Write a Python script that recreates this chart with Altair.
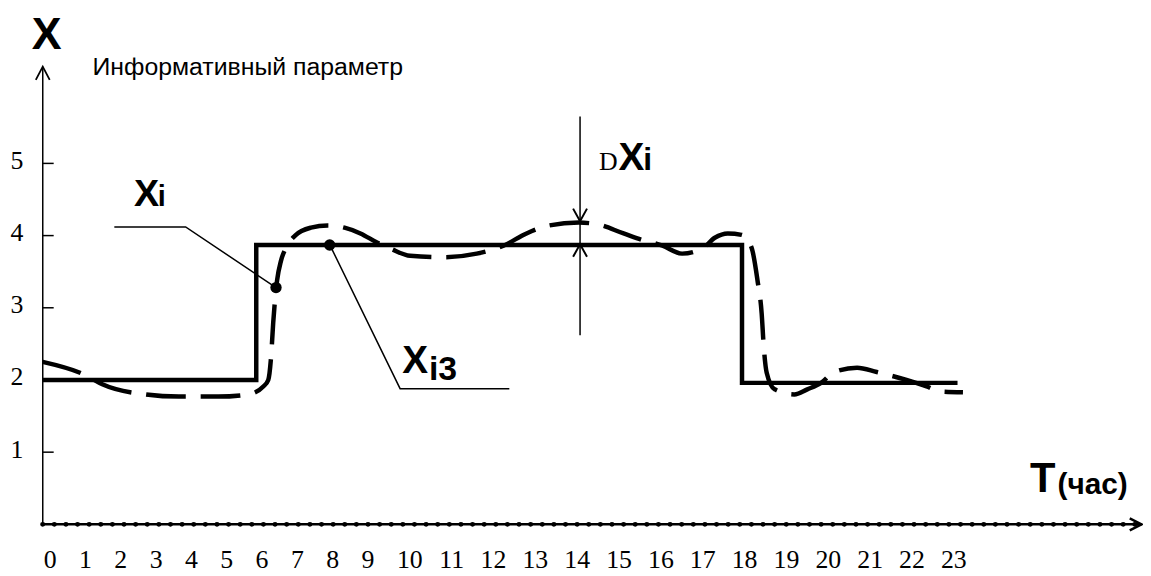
import altair as alt
import pandas as pd

# ---------------- data ----------------
HOURS = list(range(24))
Y_TICKS = [1, 2, 3, 4, 5]

# solid step line  Xi
STEP_T = [-0.2, 5.85, 5.85, 17.95, 17.95, 23.1]
STEP_X = [2.0, 2.0, 3.87, 3.87, 1.96, 1.96]

# dashed curve  Xi3
CURVE_T = [-0.2, 1.04, 1.49, 2.73, 3.66, 4.78, 5.62, 6.05, 6.19, 6.27, 6.33, 6.38,
           6.44, 6.55, 6.69, 6.95, 7.40, 7.87, 8.35, 8.80, 9.24, 9.55, 10.02, 10.83,
           11.61, 12.25, 12.80, 13.34, 14.05, 14.46, 15.12, 15.57, 16.05, 16.52, 17.00,
           17.30, 17.61, 17.94, 18.18, 18.32, 18.42, 18.47, 18.54, 18.73, 19.20, 19.51,
           19.84, 20.15, 20.70, 21.17, 21.88, 22.36, 22.69, 23.23]
CURVE_X = [2.25, 2.06, 1.94, 1.80, 1.77, 1.77, 1.80, 1.91, 2.00, 2.32, 2.79, 3.10,
           3.38, 3.65, 3.83, 4.00, 4.11, 4.14, 4.11, 4.03, 3.90, 3.82, 3.72, 3.70,
           3.75, 3.86, 4.03, 4.14, 4.18, 4.16, 4.03, 3.94, 3.86, 3.75, 3.82,
           3.97, 4.03, 4.01, 3.83, 3.38, 2.92, 2.46, 2.10, 1.87, 1.80, 1.87,
           1.96, 2.11, 2.17, 2.11, 2.00, 1.91, 1.84, 1.83]

# leader lines of the labels
PTR_XI_T = [1.83, 3.85, 6.41]
PTR_XI_X = [4.12, 4.12, 3.28]
PTR_XI3_T = [7.93, 9.78, 12.39]
PTR_XI3_X = [3.875, 1.88, 1.88]
DOT_T = [6.41, 7.93]
DOT_X = [3.28, 3.87]

# delta arrow
DELTA_T = 14.08
DELTA_TOP = 5.65
DELTA_BOTTOM = 2.62
DELTA_DOWN_TIP = 4.20
DELTA_UP_TIP = 3.88

# axes extent
AXIS_T_START = -0.2
AXIS_T_END = 27.5
Y_AXIS_TOP = 6.34

# texts
BOLD_TEXT = ["X", "X", "i", "X", "i3", "X", "i", "T", "(час)"]
BOLD_T = [-0.506, 2.39, 3.06, 9.83, 10.47, 15.0, 15.59, 24.83, 25.49]
BOLD_X = [6.585, 4.41, 4.41, 2.096, 2.0, 4.91, 4.91, 0.45, 0.42]
BOLD_SIZE = [45, 38, 29, 39, 34, 39, 32, 42, 30]
TITLE_TEXT = ["Информативный параметр"]
TITLE_T = [1.21]
TITLE_X = [6.227]
DELTA_TEXT = ["D"]
DELTA_TXT_T = [14.53]
DELTA_TXT_X = [4.91]

# ---------------- tables ----------------
step_df = pd.DataFrame({"t": STEP_T, "v": STEP_X, "i": range(len(STEP_T))})
curve_df = pd.DataFrame({"t": CURVE_T, "v": CURVE_X, "i": range(len(CURVE_T))})
ptr_df = pd.DataFrame({
    "t": PTR_XI_T + PTR_XI3_T,
    "v": PTR_XI_X + PTR_XI3_X,
    "g": ["a"] * 3 + ["b"] * 3,
    "i": list(range(3)) * 2,
})
dot_df = pd.DataFrame({"t": DOT_T, "v": DOT_X})
xaxis_df = pd.DataFrame({"t": [AXIS_T_START], "t1": [AXIS_T_END], "v": [0]})
yaxis_df = pd.DataFrame({"v": [0], "v1": [Y_AXIS_TOP]})
ytick_df = pd.DataFrame({"v": Y_TICKS})
delta_df = pd.DataFrame({"t": [DELTA_T], "v": [DELTA_TOP], "v1": [DELTA_BOTTOM]})
down_df = pd.DataFrame({"t": [DELTA_T], "v": [DELTA_DOWN_TIP]})
up_df = pd.DataFrame({"t": [DELTA_T], "v": [DELTA_UP_TIP]})
xarrow_df = pd.DataFrame({"t": [AXIS_T_END], "v": [0]})
yarrow_df = pd.DataFrame({"v": [Y_AXIS_TOP]})
bold_df = pd.DataFrame({"text": BOLD_TEXT, "t": BOLD_T, "v": BOLD_X, "size": BOLD_SIZE})
title_df = pd.DataFrame({"text": TITLE_TEXT, "t": TITLE_T, "v": TITLE_X})
dtext_df = pd.DataFrame({"text": DELTA_TEXT, "t": DELTA_TXT_T, "v": DELTA_TXT_X})

# ---------------- scales ----------------
xs = alt.Scale(domain=[0, 9, 23], range=[7, 327, 917], nice=False, zero=False)
ys = alt.Scale(domain=[0, 7.125], nice=False, zero=False)

SERIF = "Liberation Serif"
SANS = "Liberation Sans"
LABEL_SIZE = 26


def X():
    return alt.X("t:Q", scale=xs)


def Y():
    return alt.Y("v:Q", scale=ys)


step = alt.Chart(step_df).mark_line(color="black", strokeWidth=4.5, interpolate="linear",
                                     strokeJoin="miter").encode(
    x=alt.X("t:Q", scale=xs, title=None, axis=alt.Axis(
        values=HOURS, format="d", labelPadding=35, labelBaseline="middle", title=None,
        labelFont=SERIF, labelFontSize=LABEL_SIZE, labelColor="black")),
    y=alt.Y("v:Q", scale=ys, title=None, axis=alt.Axis(
        values=Y_TICKS, format="d", labelPadding=20, labelOffset=-3, title=None,
        labelFont=SERIF, labelFontSize=LABEL_SIZE, labelColor="black")),
    order="i:Q",
)

curve = alt.Chart(curve_df).mark_line(color="black", strokeWidth=4.5, interpolate="monotone",
                                      strokeDash=[40, 15]).encode(
    x=X(), y=Y(), order="i:Q")

xaxis_line = alt.Chart(xaxis_df).mark_rule(color="black", strokeWidth=2.5).encode(
    x=X(), x2="t1:Q", y=Y())
xaxis_dots = alt.Chart(xaxis_df).mark_rule(color="black", strokeWidth=5, strokeCap="round",
                                           strokeDash=[0.1, 11.6]).encode(
    x=X(), x2="t1:Q", y=Y())
yaxis_line = alt.Chart(yaxis_df).mark_rule(color="black", strokeWidth=1.5).encode(
    x=alt.value(0), y=Y(), y2="v1:Q")
yticks = alt.Chart(ytick_df).mark_rule(color="black", strokeWidth=1.5).encode(
    x=alt.value(0), x2=alt.value(11), y=Y())

pointers = alt.Chart(ptr_df).mark_line(color="black", strokeWidth=1.5).encode(
    x=X(), y=Y(), detail="g:N", order="i:Q")
dots = alt.Chart(dot_df).mark_point(color="black", filled=True, shape="circle", size=130,
                                    opacity=1).encode(x=X(), y=Y())

delta_line = alt.Chart(delta_df).mark_rule(color="black", strokeWidth=1.5).encode(
    x=X(), y=Y(), y2="v1:Q")
down_head = alt.Chart(down_df).mark_point(color="black", shape="M-1,-1.8L0,0L1,-1.8",
                                          size=196, strokeWidth=2, opacity=1).encode(
    x=X(), y=Y())
up_head = alt.Chart(up_df).mark_point(color="black", shape="M-1,1.8L0,0L1,1.8",
                                      size=196, strokeWidth=2, opacity=1).encode(
    x=X(), y=Y())
x_head = alt.Chart(xarrow_df).mark_point(color="black", shape="M-2,-1L0,0L-2,1",
                                         size=144, strokeWidth=2.5, opacity=1).encode(
    x=X(), y=Y())
y_head = alt.Chart(yarrow_df).mark_point(color="black", shape="M-1,1.9L0,0L1,1.9",
                                         size=196, strokeWidth=1.8, opacity=1).encode(
    x=alt.value(0), y=Y())

bold_texts = alt.Chart(bold_df).mark_text(align="left", baseline="alphabetic", font=SANS,
                                          fontWeight="bold", color="black").encode(
    x=X(), y=Y(), text="text:N",
    size=alt.Size("size:Q", scale=None, legend=None))
title_text = alt.Chart(title_df).mark_text(align="left", baseline="alphabetic", font=SANS,
                                           fontSize=25, color="black").encode(
    x=X(), y=Y(), text="text:N")
delta_text = alt.Chart(dtext_df).mark_text(align="left", baseline="alphabetic", font=SERIF,
                                           fontSize=26, color="black").encode(
    x=X(), y=Y(), text="text:N")

chart = alt.layer(
    step, curve, xaxis_line, xaxis_dots, yaxis_line, yticks, pointers, dots,
    delta_line, down_head, up_head, x_head, y_head, bold_texts, title_text, delta_text,
).properties(
    width=1108,
    height=518,
    padding={"left": 35, "top": 0, "right": 0, "bottom": 50},
    autosize=alt.AutoSizeParams(type="none"),
    background="white",
).configure_view(strokeWidth=0).configure_axis(
    labelFont=SERIF, labelFontSize=LABEL_SIZE, labelColor="black", ticks=False, domain=False,
    grid=False, labelFlush=False, labelOverlap=False, labelBound=False,
)

chart.save("out.html", embed_options={"renderer": "svg", "actions": False})
